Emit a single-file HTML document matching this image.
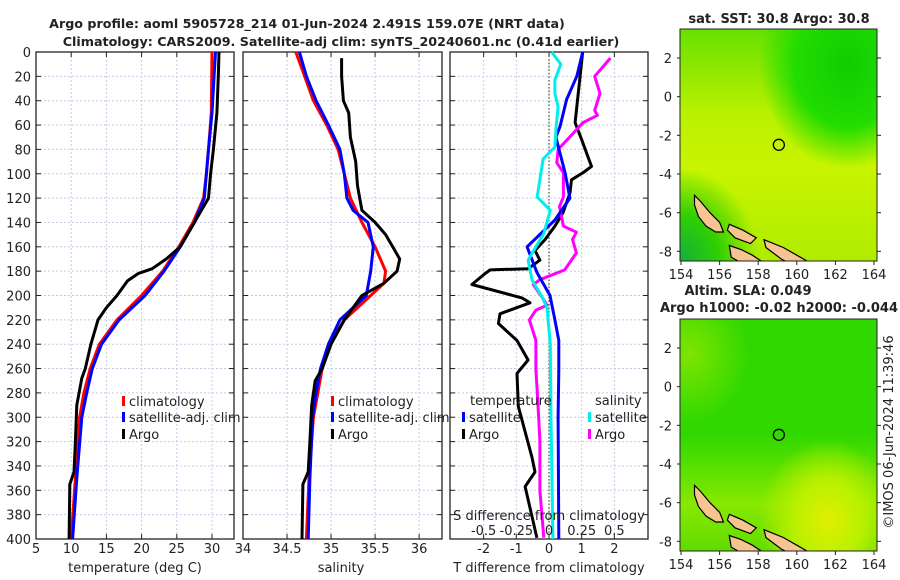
<!DOCTYPE html>
<html><head><meta charset="utf-8">
<style>
body{margin:0;background:#fff;}
svg{display:block;font-family:"DejaVu Sans","Liberation Sans",sans-serif;}
</style></head>
<body>
<svg id="fig" width="900" height="580" viewBox="0 0 900 580" xmlns="http://www.w3.org/2000/svg">
<defs>
<radialGradient id="sstNE" cx="0.85" cy="0.15" r="0.45"><stop offset="0" stop-color="#10cc00"/><stop offset="0.6" stop-color="#22dd00"/><stop offset="1" stop-color="#22dd00" stop-opacity="0"/></radialGradient>
<radialGradient id="sstSW" cx="0" cy="1" r="0.4"><stop offset="0" stop-color="#10b040"/><stop offset="0.5" stop-color="#30d000"/><stop offset="1" stop-color="#30d000" stop-opacity="0"/></radialGradient>
<linearGradient id="sstTop" x1="0" y1="0" x2="0" y2="1"><stop offset="0" stop-color="#66e000"/><stop offset="0.35" stop-color="#b8f000"/><stop offset="0.6" stop-color="#c8f400"/><stop offset="1" stop-color="#b0ec00"/></linearGradient>
<linearGradient id="slaBase" x1="0" y1="0" x2="0" y2="1"><stop offset="0" stop-color="#30d800"/><stop offset="0.5" stop-color="#30d800"/><stop offset="0.8" stop-color="#88e800"/><stop offset="1" stop-color="#60dc00"/></linearGradient>
<radialGradient id="slaSE" cx="0.75" cy="0.87" r="0.35"><stop offset="0" stop-color="#e0f000"/><stop offset="0.5" stop-color="#b8f000"/><stop offset="1" stop-color="#b8f000" stop-opacity="0"/></radialGradient>
<radialGradient id="slaW" cx="0.05" cy="0.15" r="0.3"><stop offset="0" stop-color="#80e400"/><stop offset="1" stop-color="#80e400" stop-opacity="0"/></radialGradient>
</defs>
<g id="root"></g>
</svg>
<script>
// ---- data: depths (m) and values ----
const tArgoDepth = [0,20,50,80,100,120,140,160,170,178,182,188,200,210,220,240,260,268,290,320,345,355,400];
const tArgo      = [31.0,30.9,30.7,30.2,29.8,29.5,27.5,25.5,23.5,21.5,19.5,18,16.5,15,13.8,12.8,12,11.5,10.8,10.6,10.4,9.8,9.7];
const climDepth  = [0,50,80,100,120,140,160,180,200,220,240,260,280,300,350,400];
const tClim      = [30.0,29.9,29.5,29.2,28.8,27.3,25.3,23.0,20.0,16.5,14,12.7,11.8,11.2,10.6,10.0];
const tSatDepth  = [0,20,50,80,100,120,140,160,180,200,220,240,260,280,300,350,400];
const tSat       = [30.5,30.3,30,29.5,29.2,28.9,27.5,25.5,23.2,20.5,16.8,14.3,13,12.2,11.5,10.8,10.2];

const sArgoDepth = [5,20,40,50,70,90,110,130,140,150,160,170,180,190,200,220,240,260,270,290,320,345,355,400];
const sArgo      = [35.12,35.12,35.14,35.2,35.22,35.28,35.3,35.35,35.5,35.62,35.7,35.78,35.75,35.6,35.35,35.15,35.0,34.9,34.82,34.78,34.76,34.74,34.68,34.67];
const sClimDepth = [0,20,40,60,80,100,120,140,160,180,190,200,220,240,260,280,300,350,400];
const sClim      = [34.6,34.7,34.8,34.95,35.08,35.15,35.22,35.35,35.5,35.62,35.6,35.45,35.15,34.98,34.9,34.85,34.8,34.75,34.72];
const sSatDepth  = [0,20,40,60,80,100,120,130,140,160,180,200,220,240,260,280,300,350,400];
const sSat       = [34.64,34.72,34.83,34.97,35.1,35.15,35.18,35.25,35.42,35.48,35.45,35.4,35.1,34.97,34.88,34.83,34.79,34.76,34.74];

const dTSatDepth = [0,20,39,61,70,99,120,138,160,181,200,220,237,261,300,400];
const dTSat      = [1.03,0.85,0.54,0.34,0.21,0.49,0.64,0.18,-0.67,-0.37,0.03,0.18,0.3,0.3,0.28,0.3];
const dTArgoDepth= [0,58,72,83,94,99,105,116,132,143,154,163,171,178,179,182,191,202,206,215,223,237,253,264,291,333,345,357,399];
const dTArgo     = [1.03,0.8,1.0,1.15,1.3,1.05,0.69,0.64,0.43,0.18,-0.12,-0.43,-0.28,-0.64,-1.8,-1.96,-2.36,-0.83,-0.58,-1.5,-1.55,-0.98,-0.64,-0.98,-0.94,-0.52,-0.43,-0.73,-0.37];
const dSSatDepth = [0,10,23,34,45,61,78,88,119,130,149,171,187,202,210,240,300,400];
const dSSat      = [0.02,0.09,0.045,0.045,0.07,0.055,0.045,-0.045,-0.09,0.01,-0.04,-0.16,-0.13,-0.05,-0.015,0.01,0.015,0.03];
const dSArgoDepth= [5,20,34,48,52,58,72,80,91,99,119,127,143,148,154,165,179,187,191,202,208,212,220,237,261,278,319,360,399];
const dSArgo     = [0.47,0.35,0.39,0.35,0.37,0.26,0.14,0.07,0.06,0.11,0.11,0.08,0.11,0.21,0.18,0.21,0.12,-0.07,-0.12,-0.05,-0.015,-0.1,-0.15,-0.1,-0.1,-0.09,-0.07,-0.07,-0.04];

const depthTicks = [0,20,40,60,80,100,120,140,160,180,200,220,240,260,280,300,320,340,360,380,400];
const tTicks = [5,10,15,20,25,30];
const sTicks = [34,34.5,35,35.5,36];
const dTTicks = [-2,-1,0,1,2];
const dSTickLabels = ["-0.5","-0.25","0","0.25","0.5"];
const dSTickVals = [-0.5,-0.25,0,0.25,0.5];
const lonTicks = [154,156,158,160,162,164];
const latTicks = [2,0,-2,-4,-6,-8];
const argoLon = 159.07, argoLat = -2.491;

// ---- geometry ----
const NS="http://www.w3.org/2000/svg";
const root=document.getElementById('root');
const TOP=52,BOT=539;
const yD=d=>TOP+(d/400)*(BOT-TOP);
const P1={x0:36,x1:234,v0:5,v1:33.125};
const P2={x0:243,x1:442,v0:34,v1:36.26};
const P3={x0:450,x1:648,v0:-3.03,v1:3.03};
const sx=(p,v)=>p.x0+(v-p.v0)/(p.v1-p.v0)*(p.x1-p.x0);
const xT=v=>sx(P1,v), xS=v=>sx(P2,v), xdT=v=>sx(P3,v), xdS=v=>sx(P3,v*4);

function el(tag,attrs,parent){const e=document.createElementNS(NS,tag);for(const k in attrs)e.setAttribute(k,attrs[k]);(parent||root).appendChild(e);return e;}
function txt(s,x,y,opts,parent){const e=el('text',Object.assign({x:x,y:y,'font-size':13,fill:'#222'},opts||{}),parent);e.textContent=s;return e;}

function panel(p,name,xticks,xfn,labels){
  const g=el('g',{});
  
  
  depthTicks.forEach(d=>{if(d>0&&d<400)el('line',{x1:p.x0,x2:p.x1,y1:yD(d),y2:yD(d),stroke:'#c4cbe6','stroke-width':1,'stroke-dasharray':'2,2'},g);
    el('line',{x1:p.x0,x2:p.x0+5,y1:yD(d),y2:yD(d),stroke:'#222'},g);
    el('line',{x1:p.x1-5,x2:p.x1,y1:yD(d),y2:yD(d),stroke:'#222'},g);});
  xticks.forEach((v,i)=>{const x=xfn(v);
    if(x>p.x0+1&&x<p.x1-1)el('line',{x1:x,x2:x,y1:TOP,y2:BOT,stroke:'#c4cbe6','stroke-width':1,'stroke-dasharray':'2,2'},g);
    el('line',{x1:x,x2:x,y1:BOT-5,y2:BOT,stroke:'#222'},g);
    el('line',{x1:x,x2:x,y1:TOP,y2:TOP+5,stroke:'#222'},g);
    const t=txt(labels?labels[i]:String(v),x,553,{'text-anchor':'middle'},g);
    
    
  });
  const r=el('rect',{x:p.x0,y:TOP,width:p.x1-p.x0,height:BOT-TOP,fill:'none',stroke:'#222','stroke-width':1.3},g);
  
  
  return g;
}
function series(vals,depths,xfn,color,name,w){
  const pts=vals.map((v,i)=>xfn(v).toFixed(1)+','+yD(depths[i]).toFixed(1)).join(' ');
  const l=el('polyline',{points:pts,fill:'none',stroke:color,'stroke-width':w||3,'stroke-linejoin':'round'});
  
  
}
function legendItem(x,y,color,label,name){
  const g=el('g',{});
  
  
  el('rect',{x:x,y:y-10,width:3,height:10,fill:color},g);
  txt(label,x+7,y,{},g);
}

// titles
let t=txt('Argo profile: aoml 5905728_214 01-Jun-2024 2.491S 159.07E (NRT data)',307,28,{'text-anchor':'middle','font-weight':'bold','font-size':12.7});

t=txt('Climatology: CARS2009. Satellite-adj clim: synTS_20240601.nc (0.41d earlier)',341,46,{'text-anchor':'middle','font-weight':'bold','font-size':12.7});


// depth labels
depthTicks.forEach(d=>{const e=txt(String(d),31,yD(d)+5,{'text-anchor':'end'});
  });

// panel 1
panel(P1,'temperature-panel',tTicks,xT);
series(tClim,climDepth,xT,'#ff0000','temperature-climatology-line');
series(tSat,tSatDepth,xT,'#0000ff','temperature-satellite-line');
series(tArgo,tArgoDepth,xT,'#000000','temperature-argo-line');
t=txt('temperature (deg C)',135,572,{'text-anchor':'middle'});
legendItem(122,406,'#ff0000','climatology','legend-climatology');
legendItem(122,422,'#0000ff','satellite-adj. clim','legend-satellite');
legendItem(122,439,'#000000','Argo','legend-argo');

// panel 2
panel(P2,'salinity-panel',sTicks,xS);
series(sClim,sClimDepth,xS,'#ff0000','salinity-climatology-line');
series(sSat,sSatDepth,xS,'#0000ff','salinity-satellite-line');
series(sArgo,sArgoDepth,xS,'#000000','salinity-argo-line');
t=txt('salinity',341,572,{'text-anchor':'middle'});
legendItem(331,406,'#ff0000','climatology','legend-climatology-2');
legendItem(331,422,'#0000ff','satellite-adj. clim','legend-satellite-2');
legendItem(331,439,'#000000','Argo','legend-argo-2');

// panel 3
panel(P3,'difference-panel',dTTicks,xdT);
el('line',{x1:xdT(0),x2:xdT(0),y1:TOP,y2:BOT,stroke:'#445533','stroke-width':1.2,'stroke-dasharray':'1.5,2'});
series(dTArgo,dTArgoDepth,xdT,'#000000','temp-diff-argo-line');
series(dSArgo,dSArgoDepth,xdS,'#ff00ff','sal-diff-argo-line');
series(dTSat,dTSatDepth,xdT,'#0000ff','temp-diff-satellite-line');
series(dSSat,dSSatDepth,xdS,'#00eeee','sal-diff-satellite-line');
t=txt('temperature',470,405,{});
legendItem(462,422,'#0000ff','satellite','legend-temp-satellite');
legendItem(462,439,'#000000','Argo','legend-temp-argo');
t=txt('salinity',595,405,{});
legendItem(588,422,'#00eeee','satellite','legend-sal-satellite');
legendItem(588,439,'#ff00ff','Argo','legend-sal-argo');
t=txt('S difference from climatology',549,520,{'text-anchor':'middle'});
dSTickVals.forEach((v,i)=>{const e=txt(dSTickLabels[i],xdS(v),535,{'text-anchor':'middle'});
  });
t=txt('T difference from climatology',549,572,{'text-anchor':'middle'});

// maps
function map(y0,name,kind){
  const M={x0:680,x1:877,y0:y0,y1:y0+232};
  const lx=v=>681+(v-154)*(874-681)/10;
  const ly=v=>M.y0+(3.5-v)*(M.y1-M.y0)/12;
  const g=el('g',{});
  
  
  const clip='clip'+y0;
  const cp=el('clipPath',{id:clip},g);el('rect',{x:M.x0,y:M.y0,width:M.x1-M.x0,height:M.y1-M.y0},cp);
  const inner=el('g',{'clip-path':'url(#'+clip+')'},g);
  if(kind==='sst'){
    el('rect',{x:M.x0,y:M.y0,width:197,height:232,fill:'url(#sstTop)'},inner);
    el('rect',{x:M.x0,y:M.y0,width:197,height:232,fill:'url(#sstNE)'},inner);
    el('rect',{x:M.x0,y:M.y0,width:197,height:232,fill:'url(#sstSW)'},inner);
  } else {
    el('rect',{x:M.x0,y:M.y0,width:197,height:232,fill:'url(#slaBase)'},inner);
    el('rect',{x:M.x0,y:M.y0,width:197,height:232,fill:'url(#slaSE)'},inner);
    el('rect',{x:M.x0,y:M.y0,width:197,height:232,fill:'url(#slaW)'},inner);
  }
  // land
  const isl1=[[154.7,-5.1],[155.0,-5.4],[155.5,-6.0],[156.0,-6.5],[156.2,-7.0],[155.8,-7.0],[155.3,-6.7],[154.9,-6.2],[154.7,-5.6]];
  const isl2=[[156.5,-6.6],[157.2,-6.9],[157.9,-7.3],[157.6,-7.6],[156.8,-7.3],[156.4,-6.9]];
  const isl3=[[158.3,-7.4],[159.3,-7.8],[160.0,-8.2],[160.7,-8.6],[160.0,-8.8],[159.2,-8.4],[158.4,-7.8]];
  const isl4=[[156.5,-7.7],[157.1,-7.9],[157.7,-8.2],[158.3,-8.6],[157.3,-8.7],[156.6,-8.3]];
  [isl1,isl2,isl3,isl4].forEach(poly=>{
    el('polygon',{points:poly.map(p=>lx(p[0]).toFixed(1)+','+ly(p[1]).toFixed(1)).join(' '),fill:'#f5c490',stroke:'#000','stroke-width':1.2},inner);
  });
  const c=el('circle',{cx:lx(argoLon),cy:ly(argoLat),r:5.5,fill:'none',stroke:'#000','stroke-width':1.3},g);
  
  
  el('rect',{x:M.x0,y:M.y0,width:M.x1-M.x0,height:M.y1-M.y0,fill:'none',stroke:'#222','stroke-width':1},g);
  lonTicks.forEach(v=>{const x=lx(v);
    el('line',{x1:x,x2:x,y1:M.y1,y2:M.y1+4,stroke:'#222'},g);
    const e=txt(String(v),x,M.y1+18,{'text-anchor':'middle'},g);
    });
  latTicks.forEach(v=>{const y=ly(v);
    el('line',{x1:M.x1,x2:M.x1+4,y1:y,y2:y,stroke:'#222'},g);
    el('line',{x1:M.x0-3,x2:M.x0,y1:y,y2:y,stroke:'#222'},g);
    const e=txt(String(v),672,y+5,{'text-anchor':'end'},g);
    });
}
map(29,'sst-map','sst');
map(319,'sla-map','sla');
t=txt('sat. SST: 30.8 Argo: 30.8',779,23,{'text-anchor':'middle','font-weight':'bold'});
t=txt('Altim. SLA: 0.049',748,295,{'text-anchor':'middle','font-weight':'bold'});
t=txt('Argo h1000: -0.02 h2000: -0.044',779,312,{'text-anchor':'middle','font-weight':'bold'});
t=txt('©IMOS 06-Jun-2024 11:39:46',893,432,{'text-anchor':'middle',transform:'rotate(-90 893 432)'});
</script>
</body></html>
